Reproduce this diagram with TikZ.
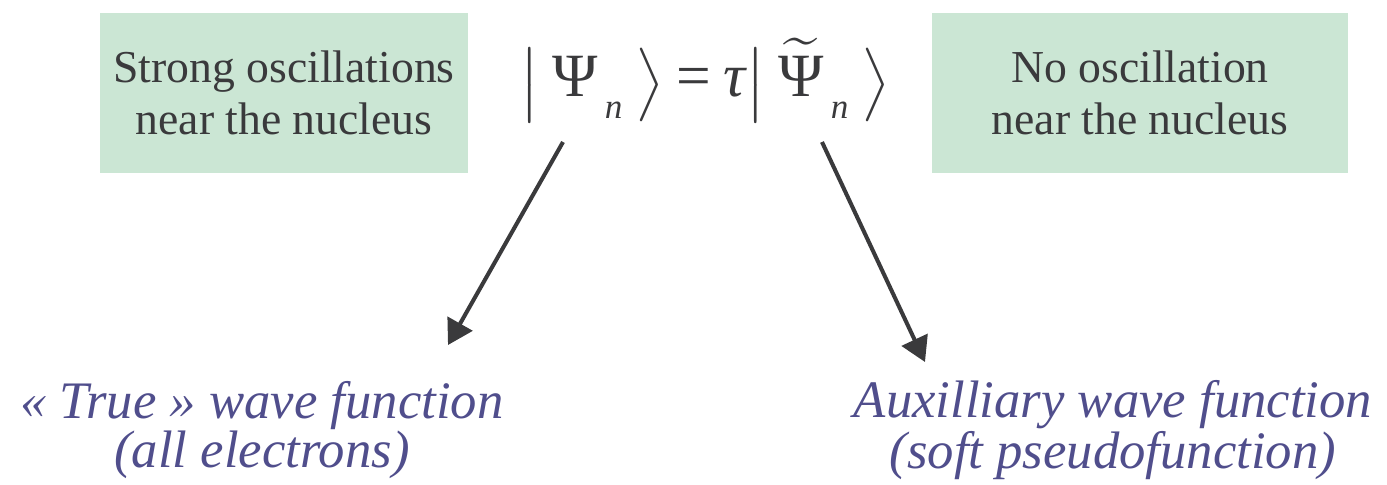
\documentclass[tikz,border=0pt]{standalone}
\usepackage{amsmath,amssymb}
\usepackage{fontspec}
\setmainfont{Liberation Serif}
\usepackage{xcolor}
\usepackage{tikz}
\usetikzlibrary{arrows.meta}

\definecolor{boxgreen}{RGB}{203,230,212}
\definecolor{inkgray}{RGB}{58,58,60}
\definecolor{labelblue}{RGB}{80,78,140}

\tikzset{
  greenbox/.style={draw=none, fill=boxgreen},
  boxtext/.style={text=inkgray, align=center, font=\fontsize{26}{29.5}\selectfont},
  kindtext/.style={text=labelblue, align=center, font=\fontsize{30}{26}\selectfont\itshape},
  pointer/.style={draw=inkgray, line width=2.3pt, -{Triangle[length=14pt,width=16pt]}}
}
\newcommand{\Psit}{\text{Ψ}}
\newcommand{\subn}{\mkern3mu{}_{\raisebox{-0.25em}{\textit{\fontsize{20}{20}\selectfont n}}}}

\begin{document}
\begin{tikzpicture}[x=0.02cm, y=-0.02cm]
\useasboundingbox (0,0) rectangle (1387,484);
% Boxes
\draw[greenbox] (100,13) rectangle (468,173) node[boxtext, pos=0.5] (strong) {Strong oscillations\\near the nucleus};
\draw[greenbox] (932,13) rectangle (1348,173) node[boxtext, pos=0.5] (none) {No oscillation\\near the nucleus};
% Equation
\node[text=inkgray, font=\fontsize{35}{40}\selectfont, inner sep=0pt] (eq) at (705,80)
  {$\bigl|\;\Psit\subn\;\bigr\rangle \mathrel{\text{=}} \textit{τ}\bigl|\;\widetilde{\Psit}\subn\;\bigr\rangle$};
% Labels
\node[kindtext] (truewf) at (262,430) {« True » wave function\\(all electrons)};
\node[kindtext] (auxwf) at (1113,430) {Auxilliary wave function\\(soft pseudofunction)};
% Arrows
\coordinate (eqL) at (563,142);
\coordinate (eqR) at (822,142);
\coordinate (trueTip) at (448,345);
\coordinate (auxTip) at (925,362);
\draw[pointer] (eqL) -- (trueTip);
\draw[pointer] (eqR) -- (auxTip);
\end{tikzpicture}
\end{document}
